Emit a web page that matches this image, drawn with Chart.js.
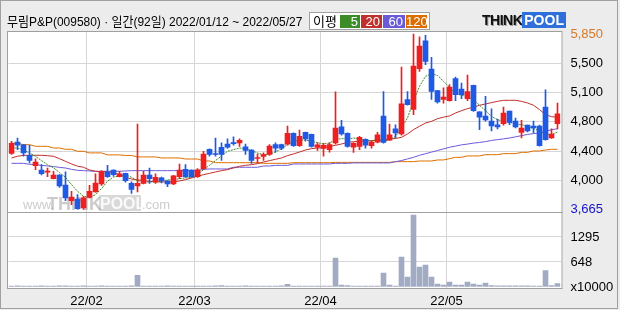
<!DOCTYPE html>
<html>
<head>
<meta charset="utf-8">
<script src="https://cdn.jsdelivr.net/npm/chart.js@4.4.0/dist/chart.umd.min.js"></script>
<style>
  html, body { margin: 0; padding: 0; background: #ececec; }
  #wrap { position: relative; width: 620px; height: 310px; overflow: hidden; }
  #chart { position: absolute; left: 0; top: 0; }
  #title { position: absolute; left: 7px; top: 13px; font-size: 13px; line-height: 17px;
           font-family: 'Liberation Sans', 'Noto Sans CJK KR', sans-serif; color: #000; white-space: nowrap;
           transform: scaleX(0.92); transform-origin: 0 0; }
  #legend { position: absolute; left: 309px; top: 12px; width: 119px; height: 16px; background: #fff;
            border: 1px solid #a0a0a0; font-family: 'Liberation Sans', 'Noto Sans CJK KR', sans-serif; }
  #legend span { position: absolute; top: 2px; height: 13px; line-height: 13px; font-size: 13px; color: #fff;
                 text-align: right; padding-right: 2px; box-sizing: border-box; }
  #legend .lbl { color: #000; left: 3px; font-size: 13px; }
  #logo { position: absolute; left: 482px; top: 13px; height: 15px; font-family: 'Liberation Sans', sans-serif;
          font-weight: bold; font-size: 14px; line-height: 15px; white-space: nowrap; }
  #logo .think { color: #111; text-shadow: 1px 1px 0 #9a9a9a; letter-spacing: -0.5px; }
  #logo .pool { color: #fff; background: #2f6fdc; padding: 0 2px; }
</style>
</head>
<body>
<div id="wrap">
  <canvas id="chart" width="620" height="310"></canvas>
  <div id="title">무림P&amp;P(009580) · 일간(92일) 2022/01/12 ~ 2022/05/27</div>
  <div id="legend">
    <span class="lbl" style="left:3px">이평</span>
    <span style="left:30px;width:20px;background:#3c8c28">5</span>
    <span style="left:51px;width:21px;background:#c0302c">20</span>
    <span style="left:73px;width:22px;background:#6a5ad8">60</span>
    <span style="left:96px;width:21px;background:#dc6e00">120</span>
  </div>
  <div id="logo"><span class="think">THINK</span><span class="pool">POOL</span></div>
</div>
<script>
// trading days shown on the chart
const dates = [
  '2022/01/12','2022/01/13','2022/01/14','2022/01/17','2022/01/18','2022/01/19','2022/01/20','2022/01/21','2022/01/24','2022/01/25',
  '2022/01/26','2022/01/27','2022/01/28','2022/02/03','2022/02/04','2022/02/07','2022/02/08','2022/02/09','2022/02/10','2022/02/11',
  '2022/02/14','2022/02/15','2022/02/16','2022/02/17','2022/02/18','2022/02/21','2022/02/22','2022/02/23','2022/02/24','2022/02/25',
  '2022/02/28','2022/03/02','2022/03/03','2022/03/04','2022/03/07','2022/03/08','2022/03/10','2022/03/11','2022/03/14','2022/03/15',
  '2022/03/16','2022/03/17','2022/03/18','2022/03/21','2022/03/22','2022/03/23','2022/03/24','2022/03/25','2022/03/28','2022/03/29',
  '2022/03/30','2022/03/31','2022/04/01','2022/04/04','2022/04/05','2022/04/06','2022/04/07','2022/04/08','2022/04/11','2022/04/12',
  '2022/04/13','2022/04/14','2022/04/15','2022/04/18','2022/04/19','2022/04/20','2022/04/21','2022/04/22','2022/04/25','2022/04/26',
  '2022/04/27','2022/04/28','2022/04/29','2022/05/02','2022/05/03','2022/05/04','2022/05/06','2022/05/09','2022/05/10','2022/05/11',
  '2022/05/12','2022/05/13','2022/05/16','2022/05/17','2022/05/18','2022/05/19','2022/05/20','2022/05/23','2022/05/24','2022/05/25',
  '2022/05/26','2022/05/27'
];

const open = [
  4365,4505,4470,4340,4210,4155,4130,4050,4095,3970, 3775,3795,3685,3815,3885,3985,4135,4155,4075,4115,
  3990,3960,3990,4095,4010,4060,4020,3985,4075,4165, 4155,4075,4175,4415,4360,4440,4480,4495,4495,4445,
  4405,4300,4325,4350,4475,4475,4480,4615,4460,4625, 4600,4440,4425,4410,4495,4695,4615,4440,4450,4540,
  4460,4505,4830,4530,4670,4605,5035,4910,5420,5765, 5415,5145,5035,5020,5295,5165,5045,5210,4880,4830,
  4765,4720,4735,4890,4765,4625,4715,4705,4705,4940, 4555,4735
];
const high = [
  4515,4555,4475,4465,4295,4225,4180,4140,4100,4135, 3890,3850,3830,3965,4110,4150,4215,4160,4140,4120,
  4010,4730,4140,4180,4110,4070,4025,4090,4230,4225, 4160,4175,4390,4420,4555,4495,4545,4570,4545,4480,
  4410,4355,4370,4475,4495,4480,4705,4620,4655,4630, 4605,4495,4490,4495,5130,4775,4620,4500,4575,4545,
  4525,4625,5135,4730,4720,5440,5135,5850,5815,5835, 5560,5150,5180,5220,5315,5240,5340,5215,4885,5075,
  4920,4790,4940,4890,4805,4775,4715,4765,4715,5155, 4670,4990
];
const low = [
  4350,4410,4330,4245,4160,4095,4075,4045,3940,3775, 3725,3670,3665,3810,3880,3965,4065,4080,4070,4005,
  3865,3885,3985,3990,3990,3995,3950,3975,4050,4065, 4065,4065,4165,4330,4330,4275,4425,4465,4450,4350,
  4240,4245,4275,4340,4380,4410,4465,4450,4450,4515, 4440,4400,4330,4380,4480,4590,4440,4375,4410,4430,
  4430,4495,4490,4525,4555,4590,4965,4845,5385,5470, 5035,4990,4990,5015,5020,5045,5020,4885,4660,4765,
  4645,4670,4715,4720,4680,4555,4630,4620,4455,4530, 4550,4670
];
const close = [
  4490,4465,4370,4275,4255,4110,4135,4095,3960,3810, 3820,3675,3810,3890,3995,4135,4075,4100,4110,4025,
  3915,3990,4095,4050,4065,4025,3985,4085,4155,4075, 4075,4160,4355,4350,4350,4350,4440,4485,4525,4400,
  4275,4305,4350,4455,4430,4430,4615,4460,4575,4545, 4450,4470,4465,4475,4680,4605,4450,4490,4565,4465,
  4505,4595,4500,4595,4620,4980,4970,5450,5700,5510, 5135,5005,5065,5190,5095,5095,5135,4895,4815,4780,
  4705,4695,4865,4750,4695,4680,4645,4680,4460,4535, 4605,4855
];

// moving averages as drawn (5, 20, 60, 120 days)
const ma5 = [
  4431,4431,4406,4369,4328,4274,4222,4185,4125,4066, 3975,3892,3830,3817,3850,3925,4017,4070,4083,4099,
  4066,4025,4008,4008,4008,4017,4033,4037,4050,4058, 4066,4099,4162,4215,4274,4332,4390,4410,4431,4423,
  4398,4369,4348,4357,4381,4423,4473,4514,4527,4531, 4514,4498,4481,4494,4535,4548,4543,4556,4543,4523,
  4523,4535,4514,4535,4576,4680,4805,5012,5199,5324, 5353,5336,5261,5187,5104,5090,5070,5033,4963,4896,
  4825,4784,4763,4751,4730,4722,4701,4672,4647,4605, 4597,4630
];
const ma20 = [
  4307,4328,4340,4340,4340,4340,4335,4328,4298,4265, 4232,4205,4191,4157,4141,4135,4133,4125,4099,4066,
  4045,4035,4025,4015,4010,4008,4008,4010,4020,4037, 4058,4079,4099,4115,4133,4149,4162,4182,4203,4215,
  4224,4236,4257,4274,4290,4307,4336,4357,4381,4406, 4423,4431,4435,4452,4464,4481,4500,4510,4514,4518,
  4522,4527,4535,4543,4550,4564,4605,4660,4701,4742, 4763,4796,4815,4830,4867,4896,4921,4938,4963,4979,
  4996,5012,5025,5025,5025,5012,4992,4963,4909,4846, 4821,4813
];
const ma60 = [
  4240,4240,4240,4228,4224,4215,4207,4200,4190,4182, 4165,4153,4149,4145,4141,4141,4141,4141,4141,4145,
  4149,4149,4149,4149,4149,4149,4149,4149,4149,4149, 4149,4149,4166,4170,4170,4170,4170,4191,4191,4191,
  4191,4191,4207,4207,4215,4215,4215,4232,4232,4232, 4232,4232,4232,4232,4240,4240,4240,4245,4245,4245,
  4245,4245,4245,4245,4260,4275,4295,4315,4340,4360, 4380,4400,4420,4440,4455,4470,4480,4492,4500,4510,
  4525,4535,4545,4555,4570,4585,4600,4610,4620,4635, 4660,4670
];
const ma120 = [
  4489,4489,4473,4473,4452,4452,4452,4431,4431,4415, 4415,4390,4390,4370,4370,4370,4345,4345,4345,4338,
  4338,4320,4320,4320,4320,4307,4307,4307,4307,4294, 4294,4294,4270,4270,4248,4248,4248,4248,4248,4248,
  4248,4248,4240,4240,4240,4240,4240,4248,4248,4248, 4248,4248,4248,4248,4252,4252,4252,4252,4252,4252,
  4252,4252,4252,4252,4261,4261,4261,4261,4269,4269, 4269,4282,4282,4298,4315,4315,4332,4332,4332,4348,
  4348,4348,4361,4361,4361,4377,4377,4394,4394,4406, 4415,4415
];

// volume, in units of 10,000 shares
const volume = [
  25,28,22,26,24,27,22,25,28,30, 26,24,28,22,25,27,24,22,26,24,
  28,302,26,24,22,25,27,24,26,22, 25,23,26,24,28,35,24,22,25,27,
  24,26,22,25,24,27,69,26,24,22, 25,24,26,24,751,52,35,24,26,22,
  25,24,362,52,26,777,259,1864,518,570, 259,78,52,129,52,52,129,78,52,104,
  35,30,28,30,32,28,30,26,26,423, 35,86
];

// price axis: label values and where the panel ends
const priceMin = 3665;
const priceMax = 5850;
const volMax = 1943;

const UP = '#f01e1e';
const DOWN = '#1e5ae6';
const GRID = '#d6d6d6';
const BORDER = '#a0a0a0';
const FONT = "'Liberation Sans', sans-serif";

const candleColors = close.map((c, i) => c >= open[i] ? UP : DOWN);

function monthStart(i) {
  return i > 0 && i < dates.length && dates[i].slice(5, 7) !== dates[i - 1].slice(5, 7);
}

function priceLabel(v) {
  if (Math.abs(v - priceMax) < 1 || Math.abs(v - priceMin) < 1) return Math.round(v).toLocaleString('en-US');
  return (Math.round(v / 100) * 100).toLocaleString('en-US');
}

const panels = {
  id: 'panels',
  beforeDraw(chart) {
    const {ctx, chartArea} = chart;
    ctx.save();
    ctx.fillStyle = '#ececec';
    ctx.fillRect(0, 0, chart.width, chart.height);
    ctx.fillStyle = '#ffffff';
    ctx.fillRect(chartArea.left - 1, chartArea.top, chartArea.right - chartArea.left + 3, chartArea.bottom - chartArea.top);
    ctx.restore();
  },
  beforeDatasetsDraw(chart) {
    // faint site watermark in the price panel
    const {ctx} = chart;
    ctx.save();
    ctx.fillStyle = 'rgba(140,140,140,0.45)';
    ctx.font = '13px ' + FONT;
    ctx.fillText('www.', 23, 209);
    ctx.font = 'bold 18px ' + FONT;
    ctx.fillText('THINK', 47, 210);
    ctx.fillStyle = 'rgba(170,170,170,0.45)';
    ctx.fillRect(99, 195, 42, 16);
    ctx.fillStyle = 'rgba(255,255,255,0.85)';
    ctx.font = 'bold 16px ' + FONT;
    ctx.fillText('POOL', 100, 209);
    ctx.fillStyle = 'rgba(140,140,140,0.45)';
    ctx.font = '13px ' + FONT;
    ctx.fillText('.com', 142, 209);
    ctx.restore();
  },
  afterDraw(chart) {
    const {ctx, chartArea} = chart;
    const y = chart.scales.y;
    const l = chartArea.left - 1;
    const r = chartArea.right + 1.5;
    ctx.save();
    ctx.strokeStyle = BORDER;
    ctx.lineWidth = 1;
    ctx.strokeRect(l, Math.round(y.top) + 0.5, r - l, Math.round(y.bottom) - Math.round(y.top));
    ctx.strokeRect(l, Math.round(y.bottom) + 0.5, r - l, Math.round(chartArea.bottom) - Math.round(y.bottom));
    ctx.strokeRect(0.5, 0.5, 617, 308);
    ctx.restore();
  }
};

new Chart(document.getElementById('chart'), {
  data: {
    labels: dates,
    datasets: [
      {type: 'line', data: ma5, borderColor: '#3c8c28', borderWidth: 1, borderDash: [2, 1], pointRadius: 0, tension: 0, yAxisID: 'y', order: 3},
      {type: 'line', data: ma20, borderColor: '#c0302c', borderWidth: 1, pointRadius: 0, tension: 0, yAxisID: 'y', order: 4},
      {type: 'line', data: ma60, borderColor: '#6a5ad8', borderWidth: 1, pointRadius: 0, tension: 0, yAxisID: 'y', order: 5},
      {type: 'line', data: ma120, borderColor: '#dc6e00', borderWidth: 1, pointRadius: 0, tension: 0, yAxisID: 'y', order: 6},
      {type: 'bar', data: low.map((v, i) => [v, high[i]]), backgroundColor: candleColors,
       barThickness: 1, grouped: false, yAxisID: 'y', order: 2},
      {type: 'bar', data: open.map((v, i) => [v, close[i]]), backgroundColor: candleColors,
       barThickness: 5, minBarLength: 1, grouped: false, yAxisID: 'y', order: 1},
      {type: 'bar', data: volume, backgroundColor: '#a2abc4', barThickness: 5, grouped: false, yAxisID: 'v', order: 7}
    ]
  },
  options: {
    responsive: false,
    animation: false,
    layout: {padding: {left: 8.5, top: 31, right: 0, bottom: 0}},
    plugins: {legend: {display: false}, tooltip: {enabled: false}},
    scales: {
      x: {
        type: 'category',
        offset: true,
        grid: {offset: true, drawTicks: false, color: c => monthStart(c.index) ? GRID : 'rgba(0,0,0,0)'},
        border: {display: false},
        ticks: {
          autoSkip: false, maxRotation: 0, minRotation: 0, labelOffset: -3, padding: 6,
          color: '#000', font: {family: FONT, size: 13},
          callback: (v, i) => monthStart(i) ? '22/' + dates[i].slice(5, 7) : ''
        },
        afterFit: s => { s.height = 22; }
      },
      y: {
        position: 'right', stack: 'panel', stackWeight: 181,
        min: priceMin - 31, max: priceMax + 38,
        grid: {drawTicks: false, color: c => (c.index === 0 || c.index === 6) ? 'rgba(0,0,0,0)' : GRID},
        border: {display: false},
        afterBuildTicks: s => {
          s.ticks = [0, 1, 2, 3, 4, 5, 6].map(k => ({value: priceMin + k * (priceMax - priceMin) / 6}));
        },
        ticks: {
          autoSkip: false, padding: 10, font: {family: FONT, size: 13},
          color: c => c.index === 6 ? '#d8782a' : (c.index === 0 ? '#1414c8' : '#000'),
          callback: v => priceLabel(v)
        },
        afterFit: s => { s.width = 59.5; }
      },
      v: {
        position: 'right', stack: 'panel', stackWeight: 76,
        min: -26, max: volMax,
        grid: {drawTicks: false, color: c => c.index === 0 ? 'rgba(0,0,0,0)' : GRID},
        border: {display: false},
        afterBuildTicks: s => {
          s.ticks = [0, 1, 2].map(k => ({value: k * volMax / 3}));
        },
        ticks: {
          autoSkip: false, padding: 10, color: '#000', font: {family: FONT, size: 13},
          callback: v => v === 0 ? 'x10000' : String(Math.round(v))
        },
        afterFit: s => { s.width = 59.5; }
      }
    }
  },
  plugins: [panels]
});
</script>
</body>
</html>
